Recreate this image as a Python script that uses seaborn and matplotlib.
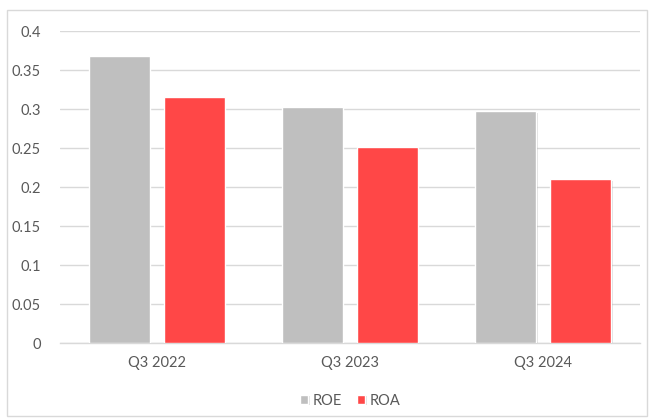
import pandas as pd
import seaborn as sns
import matplotlib.pyplot as plt
import matplotlib.patheffects as pe
from matplotlib.patches import Rectangle

quarters = ["Q3 2022", "Q3 2023", "Q3 2024"]
roe = [0.368, 0.303, 0.297]
roa = [0.315, 0.251, 0.210]

df = pd.DataFrame({
    "quarter": quarters * 2,
    "metric": ["ROE"] * 3 + ["ROA"] * 3,
    "value": roe + roa,
})

sns.set_style("white")
plt.rcParams["font.family"] = ["Lato", "DejaVu Sans"]

fig = plt.figure(figsize=(6.54, 4.2), dpi=100)
ax = fig.add_axes([0.0917, 0.1833, 0.887, 0.7427])

palette = {"ROE": "#BFBFBF", "ROA": "#FF4747"}
sns.barplot(data=df, x="quarter", y="value", hue="metric", palette=palette,
            width=0.776, gap=0.187, ax=ax, saturation=1, zorder=3)

# soft shadow like the office chart
for p in ax.patches:
    p.set_path_effects([pe.SimplePatchShadow(offset=(1, -1), alpha=0.25, shadow_rgbFace="#808080"),
                        pe.Normal()])

ax.set_ylim(0, 0.4)
ax.set_yticks([0, 0.05, 0.1, 0.15, 0.2, 0.25, 0.3, 0.35, 0.4])
ax.set_yticklabels(["0", "0.05", "0.1", "0.15", "0.2", "0.25", "0.3", "0.35", "0.4"])
ax.yaxis.grid(True, color="#D9D9D9", linewidth=1, zorder=0)
ax.set_axisbelow(True)
for s in ["top", "right", "left"]:
    ax.spines[s].set_visible(False)
ax.spines["bottom"].set_color("#D9D9D9")
ax.spines["bottom"].set_linewidth(1)
ax.tick_params(axis="both", length=0, colors="#595959", labelsize=10.5)
ax.tick_params(axis="y", pad=14)
ax.tick_params(axis="x", pad=9)
ax.set_xlabel("")
ax.set_ylabel("")

leg = ax.legend(loc="upper center", bbox_to_anchor=(0.5, -0.12), ncol=2, frameon=False,
                fontsize=10.5, handlelength=0.6, handleheight=0.6, handletextpad=0.3,
                columnspacing=1.0)
for t in leg.get_texts():
    t.set_color("#595959")

fig.patches.append(Rectangle((7 / 654, 4 / 420), 640 / 654, 406 / 420, transform=fig.transFigure,
                             fill=False, edgecolor="#D9D9D9", linewidth=1))

fig.savefig("out.png", dpi=100)
